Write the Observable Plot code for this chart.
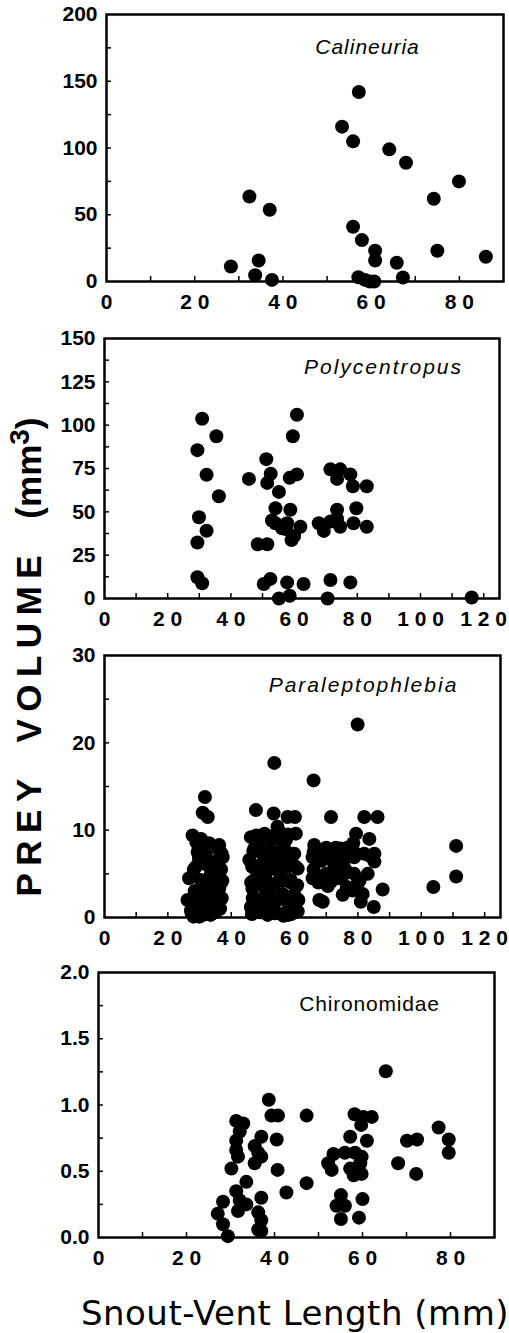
<!DOCTYPE html>
<html>
<head>
<meta charset="utf-8">
<script src="https://cdn.jsdelivr.net/npm/d3@7"></script>
<script src="https://cdn.jsdelivr.net/npm/@observablehq/plot@0.6"></script>
<style>
  html, body { margin: 0; padding: 0; background: #fff; }
  #root { position: relative; width: 509px; height: 1333px; overflow: hidden; background: #fff; }
  #root svg { position: absolute; left: 0; overflow: visible; }
  .ytitle { position: absolute; left: 29px; top: 657px; transform: translate(-50%, -50%) rotate(-90deg);
    white-space: nowrap; font-family: "Liberation Sans", Arial, sans-serif; font-weight: bold; font-size: 35px; color: #000; }
  .ytitle .sp { letter-spacing: 7.5px; word-spacing: 12px; }
  .ytitle sup { font-size: 28px; vertical-align: 12px; line-height: 0; }
  .xtitle { position: absolute; left: 295px; top: 1313px; transform: translate(-50%, -50%);
    white-space: nowrap; font-family: "DejaVu Sans", Verdana, sans-serif; font-size: 34px; letter-spacing: 0.5px; color: #000; }
</style>
</head>
<body>
<div id="root">
  <div class="ytitle"><span class="sp">PREY VOLUME </span>(mm<sup>3</sup>)</div>
  <div class="xtitle">Snout-Vent Length (mm)</div>
</div>
<script>
// ---- Data ----
const panelNames = ["Calineuria", "Polycentropus", "Paraleptophlebia", "Chironomidae"];

const calineuriaX = [28.2, 32.4, 33.7, 34.5, 37.0, 37.5, 53.4, 55.9, 57.2, 55.9, 57.9, 60.9, 60.9, 57.1, 58.6, 59.7, 60.7, 64.1, 65.8, 67.2, 67.9, 74.2, 75.0, 79.9, 86.0];
const calineuriaY = [11.2, 63.7, 4.7, 15.7, 53.7, 1.2, 116, 105, 142, 41, 31, 23, 15.7, 3.2, 1.2, 0, 0, 99, 14, 3, 89, 62, 23, 75, 18.5];

const polycentropusX = [29.4, 30.9, 35.4, 32.3, 36.2, 29.9, 32.3, 29.4, 29.4, 30.9, 45.7, 51.2, 52.6, 51.5, 55.2, 54.1, 48.5, 51.5, 54.1, 56.2, 57.8, 58.8, 59.2, 57.4, 62.0, 58.6, 60.9, 59.6, 60.9, 50.4, 52.5, 55.2, 57.8, 58.6, 63.0, 67.8, 69.4, 71.5, 74.6, 73.6, 73.6, 73.6, 74.6, 71.5, 77.8, 78.6, 79.7, 78.8, 83.0, 83.0, 71.5, 70.6, 77.8, 116.2, 53.0, 60.0];
const polycentropusY = [85.6, 103.7, 93.6, 71.4, 59.0, 46.9, 39.1, 32.3, 12.3, 8.8, 69.0, 80.4, 72.0, 66.7, 61.5, 52.1, 31.3, 31.3, 43.4, 40.5, 43.4, 51.2, 33.7, 40.0, 41.4, 69.6, 71.6, 93.6, 106.0, 8.4, 11.3, 0, 9.3, 1.6, 8.4, 43.4, 39.0, 74.5, 74.5, 69.0, 51.2, 46.0, 41.4, 44.4, 71.6, 64.8, 52.1, 43.4, 64.8, 41.4, 10.7, 0, 9.3, 0.6, 45.0, 36.0];

const paraleptophlebiaX = [79.9, 53.6, 66.0, 31.7, 31.0, 32.6, 47.8, 53.4, 57.8, 60.1, 71.5, 82.0, 86.2, 111.0, 111.0, 103.8, 87.8, 85.0, 79.4, 83.6, 67.8, 68.9, 75.2, 80.9,
  27.8, 29.4, 28.8, 26.7, 26.2, 27.3, 28.1, 30.4, 32.0, 36.2, 37.3, 35.7, 34.6, 36.7, 35.7, 34.6, 31.5, 30.4, 33.1, 30.4, 33.6, 31.5, 29.9, 36.2, 33.6, 35.0, 28.5, 32.5,
  27.5, 29.0, 30.5, 32.0, 33.5, 35.0, 36.5, 28.0, 29.5, 31.0, 32.5, 34.0, 35.5, 37.0, 28.5, 30.0, 31.5, 33.0, 34.5, 36.0, 37.2, 32.0, 33.5, 35.0, 36.8, 34.0, 35.5, 37.0, 31.0, 29.8, 31.5, 29.0, 30.5, 33.0, 36.0, 28.2,
  46.2, 47.3, 45.7, 48.3, 46.7, 48.3, 51.5, 53.6, 56.7, 59.9, 59.9, 58.8, 60.4, 59.9, 60.4, 57.3, 54.6, 52.5, 51.5, 54.6, 53.1, 56.2, 50.4, 56.7, 55.7, 50.9, 57.8, 49.4, 53.6, 58.3, 46.2, 47.3, 55.0, 52.0, 58.0, 49.0,
  46.5, 49.0, 51.5, 54.0, 56.5, 59.0, 61.0, 46.8, 49.3, 51.8, 54.3, 56.8, 59.3, 61.2, 46.3, 48.8, 51.3, 53.8, 56.3, 58.8, 60.8, 46.6, 49.1, 51.6, 54.1, 56.6, 59.1, 61.0, 47.0, 49.5, 52.0, 54.5, 57.0, 59.5, 48.0, 50.5, 53.0, 55.5, 58.0,
  66.2, 65.7, 65.7, 68.8, 71.5, 69.9, 71.5, 74.6, 75.7, 75.2, 77.8, 78.8, 78.8, 79.9, 78.3, 82.0, 83.1, 85.2, 85.2, 81.5, 76.7, 72.5,
  66.0, 66.0, 67.5, 68.5, 70.0, 70.5, 72.5, 73.0, 74.0, 76.0, 76.5, 77.0, 78.5, 79.0, 80.5, 84.0, 69.0, 74.5];
const paraleptophlebiaY = [22.1, 17.7, 15.7, 13.8, 12.0, 11.5, 12.3, 11.9, 11.5, 11.5, 11.5, 11.5, 11.5, 8.2, 4.7, 3.5, 3.2, 1.2, 9.6, 9.0, 2.0, 1.8, 2.6, 1.8,
  9.4, 7.5, 5.8, 4.5, 2.0, 0.8, 0.1, 8.9, 7.3, 8.3, 6.9, 5.4, 4.5, 3.9, 2.4, 1.2, 0.5, 2.7, 2.7, 4.3, 5.0, 1.6, 0.1, 3.3, 3.5, 1.0, 3.0, 6.0,
  0.5, 0.3, 0.2, 0.4, 0.3, 0.6, 1.0, 1.8, 1.5, 1.2, 1.5, 1.8, 2.0, 2.2, 3.0, 2.6, 3.0, 3.2, 3.5, 3.6, 4.2, 4.2, 4.8, 4.6, 5.5, 6.0, 6.5, 7.3, 6.2, 6.8, 8.0, 8.6, 9.0, 8.5, 7.8, 5.5,
  9.2, 7.9, 6.6, 5.0, 3.3, 1.4, 0.8, 0.5, 0.5, 1.0, 2.7, 4.3, 5.8, 7.3, 9.6, 8.9, 10.4, 8.9, 6.9, 5.4, 3.7, 2.7, 2.4, 7.3, 4.7, 5.0, 5.8, 9.2, 1.6, 1.4, 1.2, 4.3, 9.0, 3.0, 0.3, 8.0,
  0.4, 0.6, 0.3, 0.5, 0.2, 0.4, 0.7, 2.2, 2.0, 2.3, 1.9, 2.1, 2.4, 2.0, 4.0, 3.8, 4.1, 3.9, 4.2, 4.0, 3.7, 5.8, 6.0, 5.7, 6.1, 5.9, 6.2, 5.6, 7.6, 7.4, 7.8, 7.5, 7.7, 7.3, 9.4, 9.6, 9.3, 9.7, 9.5,
  8.3, 6.9, 4.5, 7.3, 6.9, 5.0, 4.1, 7.9, 6.6, 4.8, 8.1, 6.9, 5.0, 3.9, 3.1, 7.3, 5.0, 7.3, 6.4, 2.7, 8.0, 6.0,
  7.5, 5.5, 4.0, 6.5, 8.0, 3.6, 5.0, 8.0, 4.5, 5.5, 3.5, 7.0, 8.5, 7.4, 4.2, 7.0, 4.6, 6.6];

const chironomidaeX = [65.3, 38.7, 39.3, 40.8, 47.3, 40.5, 40.7, 42.7, 47.3, 31.3, 32.9, 32.1, 31.3, 31.3, 31.7, 30.2, 35.5, 37.0, 36.3, 35.5, 37.0, 33.6, 31.3, 32.1, 31.7, 33.6, 37.0, 36.3, 37.0, 36.3, 37.0, 28.3, 27.1, 28.3, 29.4,
  58.2, 60.2, 62.1, 59.7, 57.2, 61.0, 53.4, 52.2, 53.0, 56.0, 58.3, 59.8, 57.2, 58.0, 59.8, 59.5, 55.1, 54.1, 56.0, 55.1, 60.0, 59.2, 68.1, 70.1, 72.4, 72.2, 77.3, 79.6, 79.6];
const chironomidaeY = [1.255, 1.04, 0.92, 0.92, 0.92, 0.74, 0.51, 0.34, 0.41, 0.88, 0.86, 0.80, 0.73, 0.66, 0.61, 0.52, 0.69, 0.76, 0.64, 0.56, 0.61, 0.42, 0.35, 0.28, 0.20, 0.25, 0.30, 0.19, 0.13, 0.06, 0.05, 0.27, 0.18, 0.10, 0.01,
  0.93, 0.91, 0.91, 0.85, 0.76, 0.73, 0.63, 0.56, 0.51, 0.64, 0.64, 0.61, 0.52, 0.47, 0.48, 0.56, 0.32, 0.24, 0.24, 0.14, 0.29, 0.15, 0.56, 0.73, 0.74, 0.48, 0.83, 0.74, 0.64];

// axis tick values
const ticks90 = [0, 20, 40, 60, 80];
const ticks120 = [0, 20, 40, 60, 80, 100, 120];
const minorX90 = [10, 20, 30, 40, 50, 60, 70, 80];
const minorX120 = [10, 20, 30, 40, 50, 60, 70, 80, 90, 100, 110, 120];
const yTicks1 = [0, 50, 100, 150, 200];
const yTicks2 = [0, 25, 50, 75, 100, 125, 150];
const yTicks3 = [0, 10, 20, 30];
const yTicks4 = [0, 0.5, 1.0, 1.5, 2.0];
const yMinor1 = [25, 50, 75, 100, 125, 150, 175];
const yMinor2 = [12.5, 25, 37.5, 50, 62.5, 75, 87.5, 100, 112.5, 125, 137.5];
const yMinor3 = [5, 10, 15, 20, 25];
const yMinor4 = [0.25, 0.5, 0.75, 1.0, 1.25, 1.5, 1.75];

// ---- Layout (styles/positions, not data) ----
const panels = [
  {name: panelNames[0], xs: calineuriaX, ys: calineuriaY, xDom: [0, 90], yDom: [0, 200], xt: ticks90, xm: minorX90, yt: yTicks1, ym: yMinor1, yfmt: d => String(d),
   top: 0, height: 320, mt: 14, mb: 39, ml: 106, mr: 6, lx: 261, ly: 33, italic: true, ls: 1},
  {name: panelNames[1], xs: polycentropusX, ys: polycentropusY, xDom: [0, 125], yDom: [0, 150], xt: ticks120, xm: minorX120, yt: yTicks2, ym: yMinor2, yfmt: d => String(d),
   top: 320, height: 320, mt: 18, mb: 42, ml: 104, mr: 10, lx: 279, ly: 29, italic: true, ls: 2},
  {name: panelNames[2], xs: paraleptophlebiaX, ys: paraleptophlebiaY, xDom: [0, 125], yDom: [0, 30], xt: ticks120, xm: minorX120, yt: yTicks3, ym: yMinor3, yfmt: d => String(d),
   top: 640, height: 320, mt: 15, mb: 43, ml: 104, mr: 9, lx: 259, ly: 30, italic: true, ls: 2},
  {name: panelNames[3], xs: chironomidaeX, ys: chironomidaeY, xDom: [0, 90], yDom: [0, 2], xt: ticks90, xm: minorX90, yt: yTicks4, ym: yMinor4, yfmt: d => d.toFixed(1),
   top: 960, height: 310, mt: 12, mb: 33, ml: 98, mr: 15, lx: 271, ly: 32, italic: false, ls: 0.8}
];

const spaced = d => String(d).split("").join(" ");
const root = document.getElementById("root");

panels.forEach((p, i) => {
  const pts = p.xs.map((x, j) => ({x, y: p.ys[j]}));
  const chart = Plot.plot({
    width: 509,
    height: p.height,
    marginTop: p.mt, marginBottom: p.mb, marginLeft: p.ml, marginRight: p.mr,
    style: {fontFamily: "'Liberation Sans', Arial, sans-serif", fontSize: "21px", fontWeight: "bold", color: "#000", background: "transparent", overflow: "visible"},
    x: {domain: p.xDom, nice: false},
    y: {domain: p.yDom, nice: false},
    marks: [
      Plot.axisX(p.xm, {anchor: "bottom", tickSize: 5, dy: -5, strokeWidth: 1.5, tickFormat: () => "", label: null}),
      Plot.axisY(p.ym, {anchor: "left", tickSize: 5, dx: 5, strokeWidth: 1.5, tickFormat: () => "", label: null}),
      Plot.axisX(p.xt, {anchor: "bottom", tickSize: 0, tickPadding: 13, tickFormat: spaced, fontWeight: "bold", label: null}),
      Plot.axisY(p.yt, {anchor: "left", tickSize: 0, tickPadding: 9, tickFormat: p.yfmt, fontWeight: "bold", label: null}),
      Plot.frame({stroke: "#000", strokeWidth: 2.5}),
      Plot.dot(pts, {x: "x", y: "y", r: 7, fill: "#000", stroke: "none"}),
      Plot.text([p.name], {frameAnchor: "top-left", dx: p.lx, dy: p.ly, textAnchor: "middle", lineAnchor: "middle",
        fontSize: 21, fontWeight: "normal", fontStyle: p.italic ? "italic" : "normal", fill: "#000"})
    ]
  });
  chart.style.top = p.top + "px";
  chart.querySelectorAll('g[aria-label="text"] text').forEach(t => t.style.letterSpacing = p.ls + "px");
  root.appendChild(chart);
});
</script>
</body>
</html>
